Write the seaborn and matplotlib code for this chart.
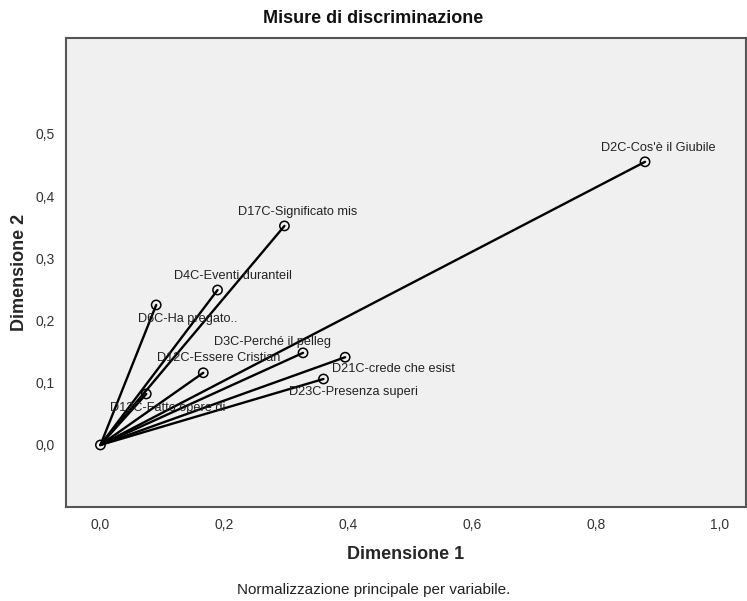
import numpy as np
import pandas as pd
from matplotlib import pyplot as plt
import seaborn as sns

variabili = ['D2C-Cos\'è il Giubile', 'D17C-Significato mis', 'D4C-Eventi duranteil',
             'D6C-Ha pregato..', 'D3C-Perché il pelleg', 'D12C-Essere Cristian',
             'D13C-Fatto opere di', 'D21C-crede che esist', 'D23C-Presenza superi']
dim1 = [0.879, 0.297, 0.189, 0.090, 0.327, 0.166, 0.074, 0.395, 0.360]
dim2 = [0.455, 0.352, 0.249, 0.225, 0.148, 0.116, 0.082, 0.141, 0.106]

xticks = [0.0, 0.2, 0.4, 0.6, 0.8, 1.0]
yticks = [0.0, 0.1, 0.2, 0.3, 0.4, 0.5]

# spostamento delle etichette (pixel)
offset_etichette = [(13, 14), (13, 14), (15, 14), (32, -14), (-31, 11),
                    (15, 15), (21, -14), (48, -12), (30, -13)]

sns.set_style('white')
plt.rcParams['font.family'] = ['Liberation Sans', 'DejaVu Sans']

punti = pd.DataFrame({'variabile': variabili, 'x': dim1, 'y': dim2})
origine = pd.DataFrame({'variabile': variabili, 'x': 0.0, 'y': 0.0})
segmenti = pd.concat([origine, punti], ignore_index=True)

fig = plt.figure(figsize=(7.47, 6.01), dpi=100)
ax = fig.add_axes([0.088, 0.1564, 0.9107, 0.7804])
ax.set_facecolor('#f0f0f0')

sns.lineplot(data=segmenti, x='x', y='y', units='variabile', estimator=None,
             sort=False, color='black', linewidth=1.7, ax=ax)
sns.scatterplot(data=pd.concat([punti, origine.iloc[:1]]), x='x', y='y', marker='o',
                s=45, facecolors='none', edgecolor='black', linewidth=1.1, ax=ax)

for nome, px, py, off in zip(variabili, dim1, dim2, offset_etichette):
    ax.annotate(nome, (px, py), xytext=off, textcoords='offset pixels',
                ha='center', va='center', fontsize=9.2, color='#222222')

ax.set_xlim(-0.056, 1.042)
ax.set_ylim(-0.0997, 0.654)
ax.set_xticks(xticks)
ax.set_yticks(yticks)
ax.set_xticklabels([f'{t:.1f}'.replace('.', ',') for t in xticks], fontsize=10)
ax.set_yticklabels([f'{t:.1f}'.replace('.', ',') for t in yticks], fontsize=10)
ax.tick_params(direction='out', length=5, width=1.2, color='#444444', pad=3,
               labelcolor='#333333')
for sp in ax.spines.values():
    sp.set_color('#555555')
    sp.set_linewidth(1.5)

fig.text(0.5, 0.970, 'Misure di discriminazione', ha='center', va='center',
         fontsize=13, fontweight='bold', color='#111111')
ax.set_xlabel('Dimensione 1', fontsize=13, fontweight='bold', labelpad=10)
ax.set_ylabel('Dimensione 2', fontsize=13, fontweight='bold', labelpad=5)
fig.text(0.5, 0.012, 'Normalizzazione principale per variabile.', ha='center',
         fontsize=11, color='#222222')

fig.savefig('out.png', dpi=100)
